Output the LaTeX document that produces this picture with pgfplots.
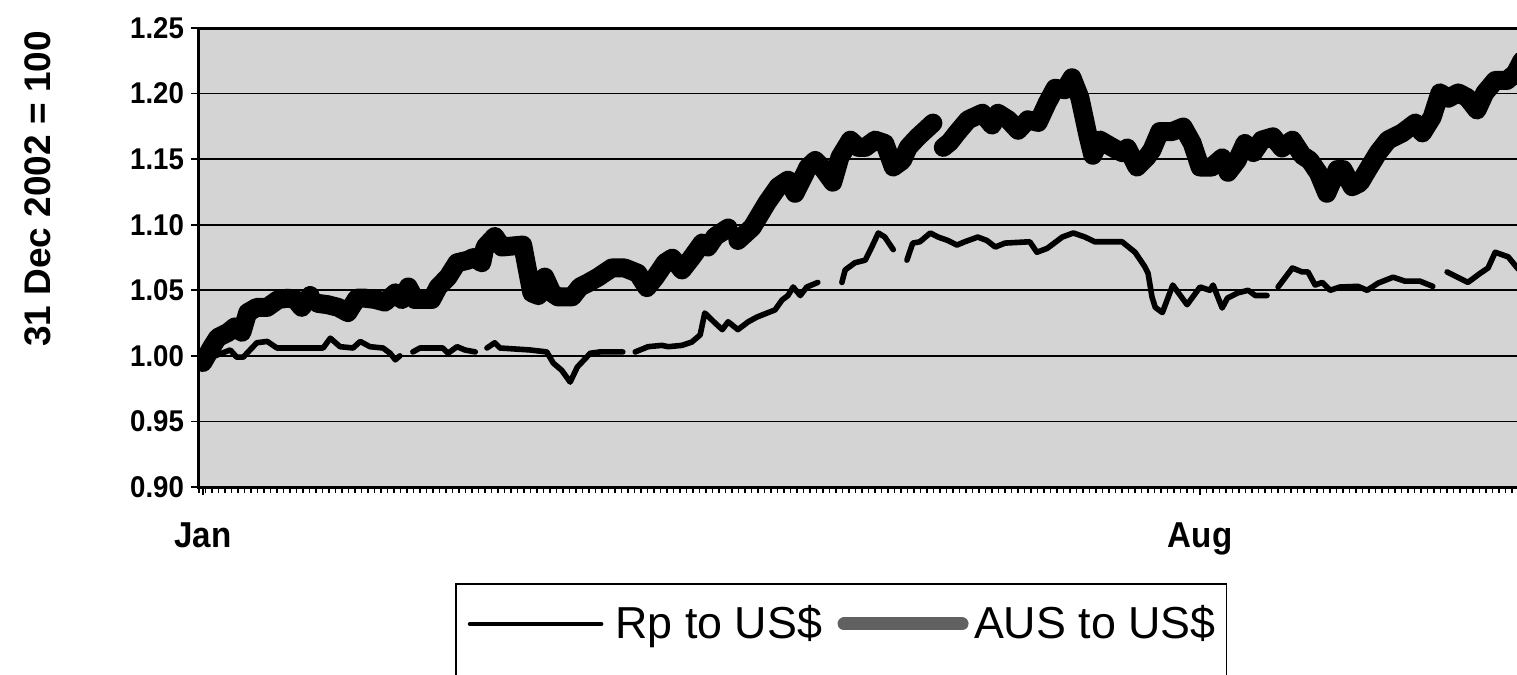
\documentclass[border=0pt]{standalone}
\usepackage{fontspec}
\setmainfont{Liberation Sans}
\newfontfamily\tickfont[FakeStretch=0.92]{Liberation Sans}
\usepackage{pgfplots}
\pgfplotsset{compat=1.18}

\pgfplotstableread{
x y
0.6 0.995
2.0 1.007
2.9 1.014
4.5 1.018
5.5 1.022
6.6 1.018
7.5 1.033
8.9 1.037
10.5 1.037
12.2 1.043
13.7 1.044
14.8 1.043
15.8 1.037
17.1 1.046
17.7 nan
18.3 1.040
19.8 1.039
21.4 1.037
22.9 1.033
24.3 1.044
25.5 1.044
27.1 1.043
28.6 1.041
30.2 1.048
31.2 1.043
32.2 1.0525
33.2 1.043
35.8 1.043
36.8 1.0525
38.3 1.060
39.7 1.071
41.4 1.073
42.2 1.075
43.5 1.071
44.0 1.083
45.5 1.091
46.6 1.083
49.8 1.0845
51.2 1.048
52.2 1.046
53.2 1.060
54.3 1.048
55.2 1.045
57.4 1.045
58.6 1.0525
59.8 1.0555
61.4 1.060
63.5 1.067
65.5 1.067
67.5 1.063
68.9 1.052
70.2 1.060
71.7 1.071
72.8 1.0745
74.3 1.0655
75.8 1.075
77.4 1.086
78.3 1.083
79.4 1.091
81.4 1.0975
82.2 nan
82.9 1.088
85.1 1.098
87.4 1.117
89.1 1.129
90.6 1.134
91.7 1.124
93.7 1.144
94.8 1.149
95.8 1.144
97.5 1.1325
98.6 1.1515
100.2 1.1645
101.4 1.159
102.5 1.159
104.0 1.1645
105.5 1.162
106.8 1.144
108.2 1.149
109.1 1.159
110.6 1.167
111.7 1.172
112.9 1.1775
113.7 nan
114.5 1.159
115.5 1.163
116.6 1.170
118.3 1.180
120.5 1.185
122.0 1.176
122.9 1.185
124.5 1.180
126.0 1.172
127.5 1.180
129.1 1.178
130.5 1.193
131.7 1.204
133.2 1.203
134.3 1.212
135.5 1.197
136.8 1.167
137.5 1.153
138.6 1.1645
140.5 1.159
142.0 1.155
142.8 1.1585
144.3 1.144
145.8 1.1515
146.6 1.157
147.8 1.171
149.7 1.171
151.4 1.1745
152.8 1.162
154.0 1.144
155.8 1.144
157.4 1.151
158.3 1.140
159.7 1.149
160.9 1.162
162.2 1.155
163.5 1.1645
165.2 1.167
166.6 1.1585
168.2 1.1645
169.7 1.153
170.9 1.149
172.2 1.1395
173.5 1.124
175.1 1.142
176.0 1.142
177.4 1.129
178.6 1.132
179.8 1.142
181.4 1.155
182.9 1.1645
185.1 1.170
187.1 1.1775
188.2 1.170
189.7 1.182
190.9 1.2005
192.2 1.1965
193.7 1.2005
195.1 1.197
196.6 1.1875
197.8 1.2005
199.4 1.210
201.2 1.210
202.5 1.2155
203.5 1.225
}\aus

\pgfplotstableread{
x y
0.5 0.997
0.9 0.997
3.5 1.002
4.8 1.0045
5.8 0.999
6.8 0.999
8.9 1.010
10.5 1.011
12.0 1.006
19.1 1.006
20.2 1.0135
21.7 1.007
23.7 1.006
24.8 1.011
26.3 1.007
28.3 1.006
29.4 1.002
30.2 0.997
30.9 1.000
31.9 nan
32.9 1.003
34.0 1.006
37.5 1.006
38.3 1.002
39.7 1.007
40.9 1.0045
42.5 1.003
43.4 nan
44.3 1.006
45.5 1.010
46.3 1.006
50.9 1.0045
53.5 1.003
54.5 0.9945
55.8 0.989
57.1 0.980
58.2 0.9915
60.2 1.002
61.7 1.003
65.2 1.003
66.1 nan
67.1 1.003
69.1 1.007
71.2 1.008
72.2 1.007
74.3 1.008
75.8 1.0105
77.1 1.016
77.8 1.0327
79.4 1.025
80.5 1.020
81.4 1.026
82.9 1.020
84.5 1.026
85.8 1.0295
87.4 1.0327
88.6 1.035
89.7 1.0426
90.6 1.046
91.4 1.0525
92.5 1.046
93.5 1.0525
95.2 1.056
97.0 nan
98.9 1.056
99.4 1.0655
100.9 1.071
102.5 1.073
103.5 1.083
104.5 1.0937
105.5 1.0906
106.8 1.081
107.8 nan
108.9 1.073
109.8 1.086
110.9 1.087
112.5 1.0937
113.7 1.0906
115.2 1.088
116.6 1.0845
117.8 1.087
119.8 1.0906
121.2 1.088
122.5 1.083
124.0 1.086
127.8 1.087
128.9 1.079
130.5 1.082
132.8 1.0906
134.5 1.0937
136.3 1.0906
137.8 1.087
142.0 1.087
144.0 1.079
145.5 1.068
146.0 1.063
146.6 1.045
147.1 1.037
148.2 1.033
149.8 1.054
152.0 1.039
154.0 1.0525
155.5 1.050
156.0 1.054
157.4 1.0365
158.2 1.044
159.8 1.048
161.4 1.050
162.5 1.046
164.3 1.046
165.1 nan
166.0 1.0525
168.2 1.067
169.7 1.064
170.6 1.064
171.7 1.054
172.8 1.056
174.0 1.050
175.5 1.0525
178.3 1.053
179.7 1.050
181.4 1.0555
183.7 1.060
185.5 1.057
187.8 1.057
189.8 1.053
190.9 nan
192.0 1.064
195.2 1.056
197.1 1.063
198.3 1.067
199.4 1.079
201.4 1.0755
202.8 1.067
203.8 1.062
}\rp

\begin{document}
\begin{tikzpicture}
\begin{axis}[
  at={(0pt,0pt)}, anchor=south west,
  scale only axis, width=665pt, height=229.5pt,
  xmin=0, xmax=204.6, ymin=0.90, ymax=1.25,
  unbounded coords=jump,
  axis line style={line width=1.5pt},
  axis background/.style={fill=black!17},
  ytick={0.9,0.95,1,1.05,1.1,1.15,1.2,1.25},
  ymajorgrids, major grid style={black, line width=0.9pt},
  yticklabel style={/pgf/number format/fixed, /pgf/number format/fixed zerofill, /pgf/number format/precision=2, /pgf/number format/assume math mode=true,
    font=\tickfont\bfseries\fontsize{15}{15}\selectfont},
  xtick={0.6,154}, xticklabels={Jan,Aug},
  xticklabel style={font=\tickfont\bfseries\fontsize{18}{18}\selectfont, anchor=base, yshift=-26pt},
  minor xtick={0,1,...,204},
  xtick pos=lower, ytick pos=left,
  tick align=outside,
  tick style={black, line width=0.8pt},
  major tick length=4pt, minor tick length=3pt,
  ylabel={31 Dec 2002 = 100},
  ylabel style={font=\bfseries\fontsize{18.5}{18.5}\selectfont, at={(axis description cs:-0.1211,0.6492)}, anchor=center},
  legend columns=2,
  legend cell align=left,
  legend style={at={(axis description cs:0.19248,-0.20915)}, anchor=north west,
    draw=black, line width=0.8pt, fill=white,
    font=\fontsize{22.4}{26}\selectfont,
    inner xsep=5.5pt, inner ysep=10.8pt,
    nodes={inner sep=0pt, text depth=17pt},
    /tikz/every odd column/.append style={column sep=0pt},
    /tikz/every even column/.append style={column sep=3pt}},
]
\addplot[black, line width=2.8pt, line join=round, line cap=round,
  legend image code/.code={\path (0pt,-10pt) (71.5pt,10pt); \draw[black, line width=1.8pt] (0pt,7.5pt) -- (66pt,7.5pt);}] table[x=x,y=y] {\rp};
\addlegendentry{Rp to US\$}
\addplot[black, line width=9.5pt, line join=round, line cap=round,
  legend image code/.code={\path (0pt,-10pt) (63.5pt,10pt); \draw[black!62, line width=6.5pt, line cap=round] (3.25pt,7.5pt) -- (62.25pt,7.5pt);}] table[x=x,y=y] {\aus};
\addlegendentry{AUS to US\$}
\end{axis}
\pgfresetboundingbox
\path[use as bounding box] (-99.5pt,-94pt) rectangle (659pt,243.5pt);
\end{tikzpicture}
\end{document}
